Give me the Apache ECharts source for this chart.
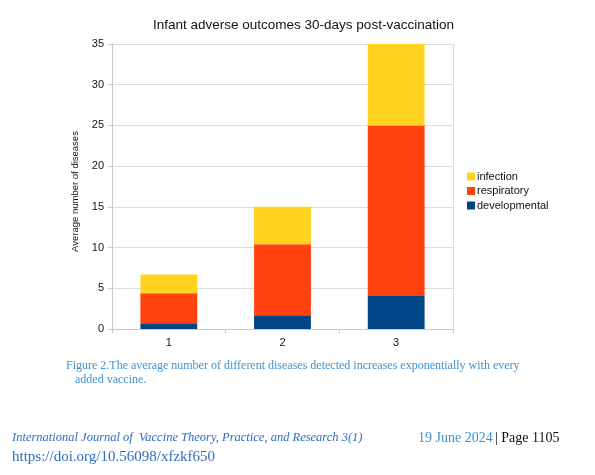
<!DOCTYPE html>
<html>
<head>
<meta charset="utf-8">
<script src="https://cdn.jsdelivr.net/npm/echarts@6/dist/echarts.min.js"></script>
<style>
  html, body { margin: 0; padding: 0; background: #fff; }
</style>
</head>
<body>
<div id="main" style="width:595px;height:475px;"></div>
<script type="text/javascript">
// categories = number of vaccines
var categories = ['1', '2', '3'];
// stacked values
var developmental = [0.7, 1.7, 4.05];
var respiratory = [3.7, 8.7, 20.95];
var infection = [2.3, 4.6, 10.0];
var yTicks = { min: 0, max: 35, interval: 5 };

var myChart = echarts.init(document.getElementById('main'));

var sans = '"Liberation Sans", Arial, sans-serif';
var serif = '"Liberation Serif", "Times New Roman", serif';

var option = {
    animation: false,
    title: {
        text: 'Infant adverse outcomes 30-days post-vaccination',
        left: 148,
        top: 13,
        textStyle: { fontFamily: sans, fontSize: 13.5, fontWeight: 'normal', color: '#111' }
    },
    legend: {
        orient: 'vertical',
        left: 462,
        top: 166,
        itemWidth: 8,
        itemHeight: 8,
        itemGap: 3.5,
        icon: 'rect',
        textStyle: { fontFamily: sans, fontSize: 11, color: '#111', padding: [0, 0, 0, -3] },
        data: ['infection', 'respiratory', 'developmental']
    },
    grid: { left: 112, right: 142, top: 44, bottom: 146 },
    xAxis: {
        type: 'category',
        data: categories,
        axisLine: { lineStyle: { color: '#c8c8c8' } },
        axisTick: { show: true, length: 4, alignWithLabel: false, lineStyle: { color: '#c8c8c8' } },
        axisLabel: { fontFamily: sans, fontSize: 11, color: '#111', margin: 8 }
    },
    yAxis: [{
        type: 'value',
        min: yTicks.min,
        max: yTicks.max,
        interval: yTicks.interval,
        name: 'Average number of diseases',
        nameLocation: 'middle',
        nameGap: 32,
        nameTextStyle: { fontFamily: sans, fontSize: 9.5, color: '#111', padding: [0, 10, 0, 0] },
        axisLine: { show: true, lineStyle: { color: '#c8c8c8' } },
        axisTick: { show: true, length: 4, lineStyle: { color: '#c8c8c8' } },
        axisLabel: { fontFamily: sans, fontSize: 11, color: '#111', margin: 8 },
        splitLine: { lineStyle: { color: '#dcdcdc' } }
    }, {
        type: 'value',
        position: 'right',
        min: yTicks.min,
        max: yTicks.max,
        interval: yTicks.interval,
        axisLine: { show: true, lineStyle: { color: '#dcdcdc' } },
        axisTick: { show: false },
        axisLabel: { show: false },
        splitLine: { show: false }
    }],
    series: [{
        name: 'developmental',
        type: 'bar',
        stack: 'total',
        barWidth: '50%',
        itemStyle: { color: '#004586' },
        data: developmental
    }, {
        name: 'respiratory',
        type: 'bar',
        stack: 'total',
        itemStyle: { color: '#ff420e' },
        data: respiratory
    }, {
        name: 'infection',
        type: 'bar',
        stack: 'total',
        itemStyle: { color: '#ffd320' },
        data: infection
    }],
    graphic: [{
        type: 'text', left: 66, top: 360,
        style: { text: 'Figure 2.The average number of different diseases detected increases exponentially with every',
                 font: '12px ' + serif, fill: '#3f92d4' }
    }, {
        type: 'text', left: 75, top: 374,
        style: { text: 'added vaccine.', font: '12px ' + serif, fill: '#3f92d4' }
    }, {
        type: 'text', left: 12, top: 431,
        style: { text: 'International Journal of  Vaccine Theory, Practice, and Research 3(1)',
                 font: 'italic 12.5px ' + serif, fill: '#2f6cc0' }
    }, {
        type: 'text', left: 12, top: 450,
        style: { text: 'https://doi.org/10.56098/xfzkf650', font: '15px ' + serif, fill: '#2f6cc0' }
    }, {
        type: 'text', left: 418, top: 431,
        style: { text: '19 June 2024', font: '14px ' + serif, fill: '#3f92d4' }
    }, {
        type: 'text', left: 495, top: 431,
        style: { text: '| Page 1105', font: '14px ' + serif, fill: '#111' }
    }]
};

myChart.setOption(option);
</script>
</body>
</html>
